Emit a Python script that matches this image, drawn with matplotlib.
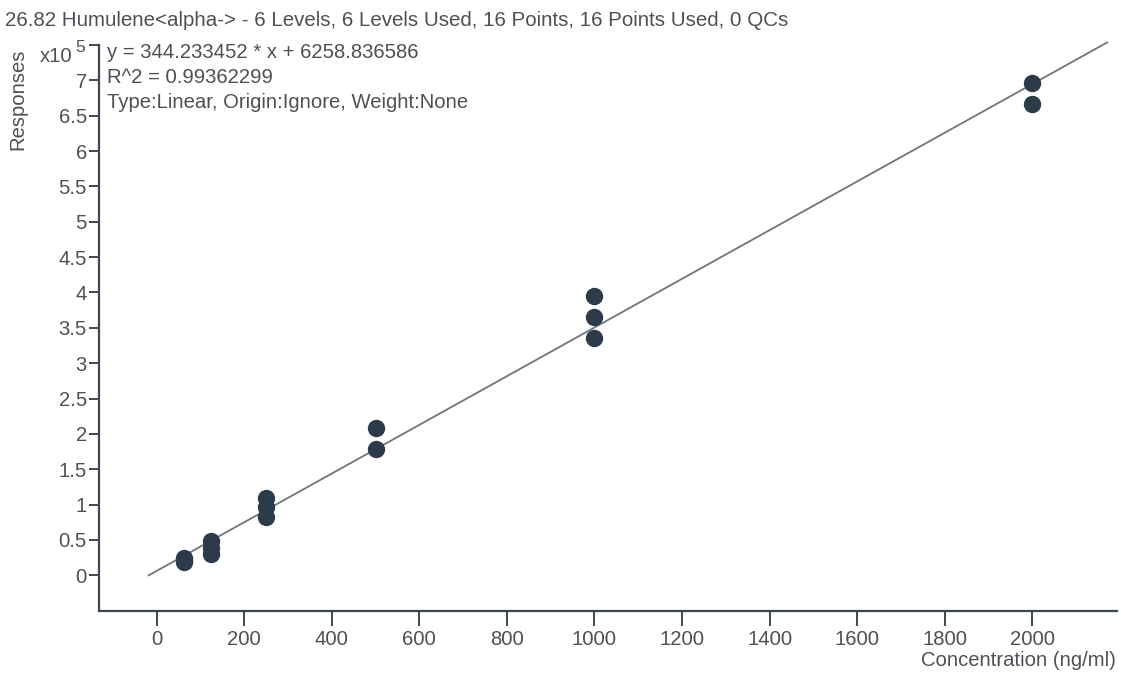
import matplotlib
matplotlib.use("Agg")
import matplotlib.pyplot as plt
import numpy as np

# Calibration data: concentration levels (ng/ml) and measured responses
conc = [62.5, 62.5, 62.5,
        125, 125, 125,
        250, 250, 250,
        500, 500,
        1000, 1000, 1000,
        2000, 2000]
resp = [19000, 21500, 24000,
        49000, 38000, 29500,
        110000, 96000, 83000,
        209000, 179000,
        395000, 366000, 335000,
        696000, 666000]

slope = 344.233452
intercept = 6258.836586
r2 = 0.99362299

title = "26.82 Humulene<alpha-> - 6 Levels, 6 Levels Used, 16 Points, 16 Points Used, 0 QCs"
eq_lines = ["y = 344.233452 * x + 6258.836586",
            "R^2 = 0.99362299",
            "Type:Linear, Origin:Ignore, Weight:None"]
xticks = [0, 200, 400, 600, 800, 1000, 1200, 1400, 1600, 1800, 2000]
yticks = [0, 0.5, 1, 1.5, 2, 2.5, 3, 3.5, 4, 4.5, 5, 5.5, 6, 6.5, 7, 7.5]
ytick_labels = ["0", "0.5", "1", "1.5", "2", "2.5", "3", "3.5", "4", "4.5",
                "5", "5.5", "6", "6.5", "7", ""]

FONT = "Liberation Sans"
FS = 14.6
TEXT_C = "#4d5156"
AXIS_C = "#3e4853"
MARK_C = "#2c3a4a"
LINE_C = "#6f757c"

W, H = 1121, 674
fig = plt.figure(figsize=(W / 100, H / 100), dpi=100)
L, R, T, B = 99.3, 1117, 45, 610.7
ax = fig.add_axes([L / W, 1 - B / H, (R - L) / W, (B - T) / H])

ax.set_xlim(-131, 2193.5)
ax.set_ylim(-0.5e5, 7.5e5)

# fitted calibration line, from the x-intercept up to the top of the plot
x0 = -intercept / slope
x1 = 2171
xs = np.array([x0, x1])
ax.plot(xs, slope * xs + intercept, color=LINE_C, lw=1.3, clip_on=False, zorder=2)

ax.plot(conc, resp, linestyle="none", marker="o", ms=11.5,
        color=MARK_C, mec=MARK_C, zorder=3)

for s in ("top", "right"):
    ax.spines[s].set_visible(False)
for s in ("left", "bottom"):
    ax.spines[s].set_color(AXIS_C)
    ax.spines[s].set_linewidth(1.6)

ax.set_xticks(xticks)
ax.set_xticklabels([str(v) for v in xticks])
ax.set_yticks([v * 1e5 for v in yticks])
ax.set_yticklabels(ytick_labels)
ax.tick_params(axis="x", length=11, width=1.4, color=AXIS_C, pad=3,
               labelsize=FS, labelcolor=TEXT_C)
ax.tick_params(axis="y", length=7, width=1.4, color=AXIS_C, pad=2,
               labelsize=FS, labelcolor=TEXT_C)
for lab in ax.get_xticklabels() + ax.get_yticklabels():
    lab.set_fontfamily(FONT)

fig.text(5 / W, 1 - 20 / H, title, fontsize=14.8, family=FONT, color=TEXT_C,
         ha="left", va="center")
for i, line in enumerate(eq_lines):
    fig.text(107 / W, 1 - (53 + 24.5 * i) / H, line, fontsize=FS, family=FONT,
             color=TEXT_C, ha="left", va="center")

fig.text(18 / W, 1 - 99 / H, "Responses", rotation=90, fontsize=FS, family=FONT,
         color=TEXT_C, ha="center", va="center")
fig.text(72 / W, 1 - 56 / H, "x10", fontsize=FS, family=FONT, color=TEXT_C,
         ha="right", va="center")
fig.text(75 / W, 1 - 47 / H, "5", fontsize=12.5, family=FONT, color=TEXT_C,
         ha="left", va="center")
fig.text(1116 / W, 1 - 661 / H, "Concentration (ng/ml)", fontsize=FS, family=FONT,
         color=TEXT_C, ha="right", va="center")

fig.savefig("out.png", dpi=100, facecolor="white")
